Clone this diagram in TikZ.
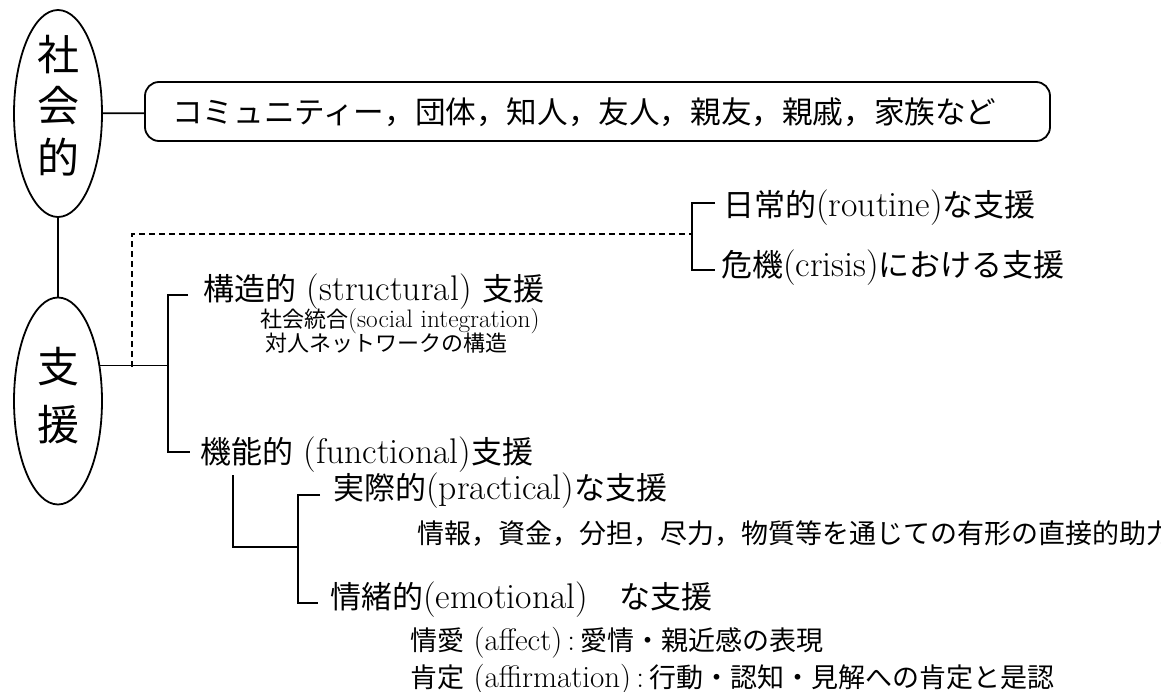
\documentclass[tikz,border=0pt]{standalone}
\usepackage{fontspec}
\setmainfont{Latin Modern Roman}[Scale=1.15]
\usetikzlibrary{shapes.geometric}
\newfontfamily\jpfont{Noto Sans CJK JP}
\newcommand\jtx[1]{{\jpfont #1}}
\begin{document}
\begin{tikzpicture}[x=1pt,y=-1pt,
  conn/.style={line width=1.8pt},
  dashconn/.style={line width=1.8pt, dash pattern=on 6pt off 4pt},
  oval/.style={ellipse, draw, line width=1.8pt, minimum width=88pt, minimum height=207pt, inner sep=0pt},
  frame/.style={draw, line width=1.8pt, rounded corners=14pt, minimum width=905pt, minimum height=59pt, inner sep=0pt},
  bigchar/.style={anchor=base, inner sep=0pt, font=\fontsize{42}{42}\selectfont\jpfont},
  boxtxt/.style={anchor=base west, inner sep=0pt, font=\fontsize{30.6}{31}\selectfont},
  maintxt/.style={anchor=base west, inner sep=0pt, font=\fontsize{31}{31}\selectfont},
  subtxt/.style={anchor=base west, inner sep=0pt, font=\fontsize{27}{27}\selectfont},
  smalltxt/.style={anchor=base west, inner sep=0pt, font=\fontsize{22}{22}\selectfont}]
\fill[white] (0,0) rectangle (1161,692);
\useasboundingbox (0,0) rectangle (1161,692);
% ovals
\node[oval] (soc) at (58,113.5) {};
\node[bigchar] (c1) at (58,70.5) {社};
\node[bigchar] (c2) at (58,121.5) {会};
\node[bigchar] (c3) at (58,173.5) {的};
\node[oval] (sup) at (58,401) {};
\node[bigchar] (c4) at (58,382.5) {支};
\node[bigchar] (c5) at (58,440.5) {援};
\draw[conn] (soc) -- (sup);
% box
\node[frame] (box) at (597.5,111.5) {};
\node[boxtxt] (boxt) at (172,123.5) {\jtx{コミュニティー，団体，知人，友人，親友，親戚，家族など}};
\draw[conn] (soc) -- (box);
% first level
\coordinate (j1) at (168,367);
\draw[conn] (sup.40) -- (sup.40 -| j1);
\coordinate (t1) at (168,295);
\coordinate (t2) at (168,452);
\coordinate (t1e) at (188,295);
\coordinate (t2e) at (190,452);
\draw[conn] (t1e) -- (t1) -- (t2) -- (t2e);
\node[maintxt] (str) at (203,300.5) {\jtx{構造的} (structural) \jtx{支援}};
\node[smalltxt] (si) at (260,327) {\jtx{社会統合}(social integration)};
\node[smalltxt] (net) at (265,352) {\jtx{対人ネットワークの構造}};
\node[maintxt] (fun) at (200,463.5) {\jtx{機能的} (functional)\jtx{支援}};
% dashed branch
\coordinate (d0) at (132,367);
\coordinate (d1) at (132,234);
\coordinate (r0) at (692,234);
\draw[dashconn] (d0) -- (d1) -- (r0);
\coordinate (r1) at (692,203);
\coordinate (r2) at (692,270);
\coordinate (r1e) at (715,203);
\coordinate (r2e) at (715,270);
\draw[conn] (r1e) -- (r1) -- (r2) -- (r2e);
\node[maintxt] (rou) at (723,216.5) {\jtx{日常的}(routine)\jtx{な支援}};
\node[maintxt] (cri) at (721,276.5) {\jtx{危機}(crisis)\jtx{における支援}};
% second level
\coordinate (f1) at (233,475);
\coordinate (f2) at (233,547);
\coordinate (f3) at (298,547);
\draw[conn] (f1) -- (f2) -- (f3);
\coordinate (p1) at (298,495);
\coordinate (p2) at (298,603);
\coordinate (p1e) at (320,495);
\coordinate (p2e) at (318,603);
\draw[conn] (p1e) -- (p1) -- (p2) -- (p2e);
\node[maintxt] (pra) at (333,499.5) {\jtx{実際的}(practical)\jtx{な支援}};
\node[subtxt] (pra2) at (417,543) {\jtx{情報，資金，分担，尽力，物質等を通じての有形の直接的助力}};
\node[maintxt] (emo) at (330,608.5) {\jtx{情緒的}(emotional)\jtx{　な支援}};
\node[subtxt] (aff) at (410,650) {\jtx{情愛} (affect)\,:\,\jtx{愛情・親近感の表現}};
\node[subtxt] (afm) at (410,687) {\jtx{肯定} (affirmation)\,:\,\jtx{行動・認知・見解への肯定と是認}};
\end{tikzpicture}
\end{document}
